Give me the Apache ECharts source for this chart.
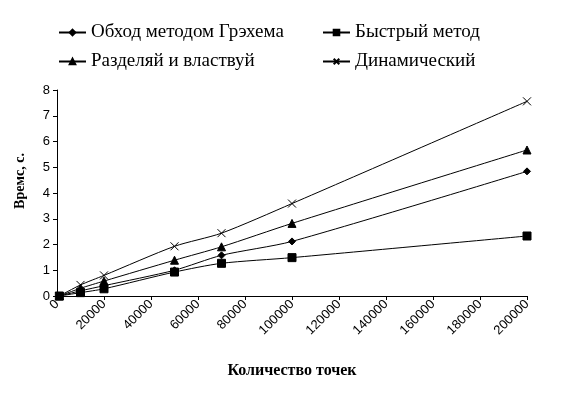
<!DOCTYPE html>
<html>
<head>
<meta charset="utf-8">
<script src="https://cdn.jsdelivr.net/npm/echarts@6/dist/echarts.min.js"></script>
<style>
  html, body { margin: 0; padding: 0; background: #fff; }
  #chart { width: 578px; height: 399px; }
</style>
</head>
<body>
<div id="chart"></div>
<script>
// количество точек
var points = [1000, 10000, 20000, 50000, 70000, 100000, 200000];
// время, с
var graham = [0, 0.2, 0.4, 1.0, 1.58, 2.12, 4.84];
var quick = [0, 0.13, 0.28, 0.93, 1.27, 1.49, 2.33];
var divide = [0, 0.3, 0.58, 1.39, 1.91, 2.82, 5.67];
var dynamic = [0, 0.43, 0.8, 1.93, 2.44, 3.59, 7.56];

var names = ['Обход методом Грэхема', 'Быстрый метод', 'Разделяй и властвуй', 'Динамический'];

function pairs(ys) {
    return points.map(function (x, i) { return [x, ys[i]]; });
}

var chart = echarts.init(document.getElementById('chart'));

var serif = '"Liberation Serif", "Times New Roman", serif';
var sans = '"Liberation Sans", Arial, sans-serif';

function line(name, ys, symbol, size) {
    return {
        name: name,
        type: 'line',
        data: pairs(ys),
        smooth: 0.25,
        symbol: symbol,
        symbolSize: size,
        lineStyle: { color: '#000', width: 1 },
        itemStyle: { color: '#000', borderColor: '#000', borderWidth: 1 },
        emphasis: { disabled: true }
    };
}

var legendText = { fontFamily: serif, fontSize: 19, color: '#000' };

var option = {
    animation: false,
    legend: [{
        data: [names[0], names[2]],
        orient: 'vertical',
        left: 58,
        top: 23,
        padding: 0,
        itemGap: 10,
        itemWidth: 27,
        itemHeight: 7,
        textStyle: legendText
    }, {
        data: [names[1], names[3]],
        orient: 'vertical',
        left: 322,
        top: 23,
        padding: 0,
        itemGap: 10,
        itemWidth: 27,
        itemHeight: 7,
        textStyle: legendText
    }],
    grid: { left: 57, right: 51, top: 90, bottom: 103 },
    xAxis: {
        type: 'value',
        min: 0,
        max: 200000,
        interval: 20000,
        name: 'Количество точек',
        nameLocation: 'middle',
        nameGap: 67,
        nameTextStyle: { fontFamily: serif, fontSize: 16, fontWeight: 'bold', color: '#000' },
        axisLine: { lineStyle: { color: '#000' } },
        axisTick: { lineStyle: { color: '#000' }, length: 4 },
        splitLine: { show: false },
        axisLabel: {
            rotate: 45, fontFamily: sans, fontSize: 13, color: '#000', margin: 6,
            formatter: function (v) { return String(v); }
        }
    },
    yAxis: {
        type: 'value',
        min: 0,
        max: 8,
        interval: 1,
        name: 'Времс, с.',
        nameLocation: 'middle',
        nameGap: 30,
        nameTextStyle: {
            fontFamily: serif, fontSize: 14, fontWeight: 'bold', color: '#000',
            padding: [0, 0, 0, 24]
        },
        axisLine: { show: true, lineStyle: { color: '#000' } },
        axisTick: { show: true, lineStyle: { color: '#000' }, length: 4 },
        splitLine: { show: false },
        axisLabel: { fontFamily: sans, fontSize: 13, color: '#000', margin: 7 }
    },
    series: [
        line(names[0], graham, 'diamond', 7),
        line(names[1], quick, 'rect', 8),
        line(names[2], divide, 'triangle', 8),
        line(names[3], dynamic, 'path://M0,0L10,10M10,0L0,10', 8)
    ]
};

chart.setOption(option);
</script>
</body>
</html>
